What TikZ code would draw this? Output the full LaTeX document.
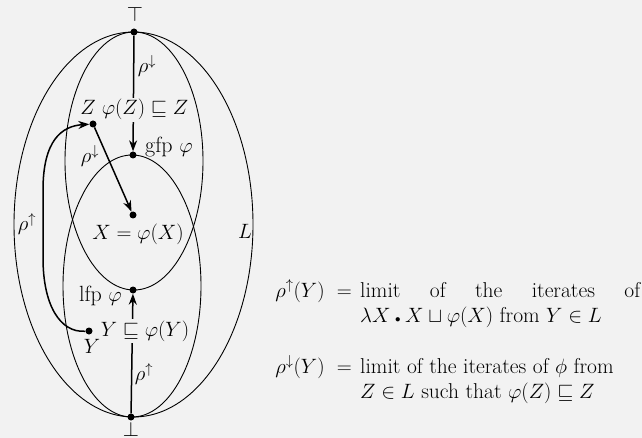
\documentclass[tikz,border=0pt]{standalone}
\usepackage{amssymb}
\usetikzlibrary{arrows.meta}
\definecolor{bg}{RGB}{242,242,242}
\begin{document}
\begin{tikzpicture}[x=1pt,y=-1pt,
  font=\fontsize{22}{26}\selectfont,
  dot/.style={circle,fill=black,inner sep=0pt,minimum size=7pt},
  ell/.style={line width=0.9pt},
  arr/.style={line width=1.5pt,-{Stealth[length=11pt,width=8pt]}},
  lbl/.style={inner sep=1pt},
  cut/.style={fill=bg,inner sep=1.5pt},
  rtext/.style={font=\fontsize{21.5}{26}\selectfont,inner sep=0pt}]
\fill[bg] (0,0) rectangle (642,438);
\useasboundingbox (0,0) rectangle (642,438);
% ellipses
\draw[ell] (133.5,224.5) ellipse [x radius=119.5pt, y radius=192.5pt];
\draw[ell] (134,161) ellipse [x radius=69pt, y radius=129pt];
\draw[ell] (132,286) ellipse [x radius=69pt, y radius=131pt];
% points
\node[dot] (top) at (134,32) {};
\node[dot] (bot) at (131,417) {};
\node[dot] (gfp) at (133,155) {};
\node[dot] (lfp) at (133,290) {};
\node[dot] (X) at (133,215) {};
\node[dot] (Z) at (93,124) {};
\node[dot] (Y) at (89,331) {};
% arrows
\draw[arr] (top) -- (gfp);
\draw[arr] (bot) -- (lfp);
\draw[arr] (Z) -- (X);
\draw[arr] (Y) .. controls (60,333) and (43,305) .. (43,258) -- (43,190)
   .. controls (43,140) and (62,126) .. (Z);
% labels
\node[lbl] (ltop) at (135,14) {$\top$};
\node[lbl,anchor=north,inner sep=0pt] (lbot) at (131,422) {$\bot$};
\node[cut,anchor=base] (post) at (145,115) {$\varphi(Z)\sqsubseteq Z$};
\node[lbl,anchor=base] (lZ) at (88,115) {$Z$};
\node[lbl,anchor=base west] (lgfp) at (144,153) {gfp $\varphi$};
\node[lbl,anchor=base] (lX) at (138,240) {$X=\varphi(X)$};
\node[lbl,anchor=base] (lL) at (245,239) {$L$};
\node[lbl,anchor=base east] (llfp) at (123,301) {lfp $\varphi$};
\node[cut,anchor=base] (pre) at (145,336) {$Y\sqsubseteq\varphi(Y)$};
\node[lbl,anchor=base] (lY) at (92,353) {$Y$};
\node[lbl] (r1) at (147,66) {$\rho^{\downarrow}$};
\node[lbl] (r2) at (90,156) {$\rho^{\downarrow}$};
\node[lbl] (r3) at (27,224) {$\rho^{\uparrow}$};
\node[lbl] (r4) at (144,374) {$\rho^{\uparrow}$};
% right text
\node[rtext,anchor=base east] (d1) at (352,297) {$\rho^{\uparrow}(Y)\ =$};
\node[rtext,anchor=base west] (t1) at (360,297) {\makebox[280pt][s]{limit of the iterates of}};
\node[rtext,anchor=base west] (t2) at (360,322) {$\lambda X\mathbin{\scriptscriptstyle\bullet} X\sqcup\varphi(X)$ from $Y\in L$};
\node[rtext,anchor=base east] (d2) at (352,373) {$\rho^{\downarrow}(Y)\ =$};
\node[rtext,anchor=base west] (t3) at (360,373) {limit of the iterates of $\phi$ from};
\node[rtext,anchor=base west] (t4) at (360,398) {$Z\in L$ such that $\varphi(Z)\sqsubseteq Z$};
\end{tikzpicture}
\end{document}
